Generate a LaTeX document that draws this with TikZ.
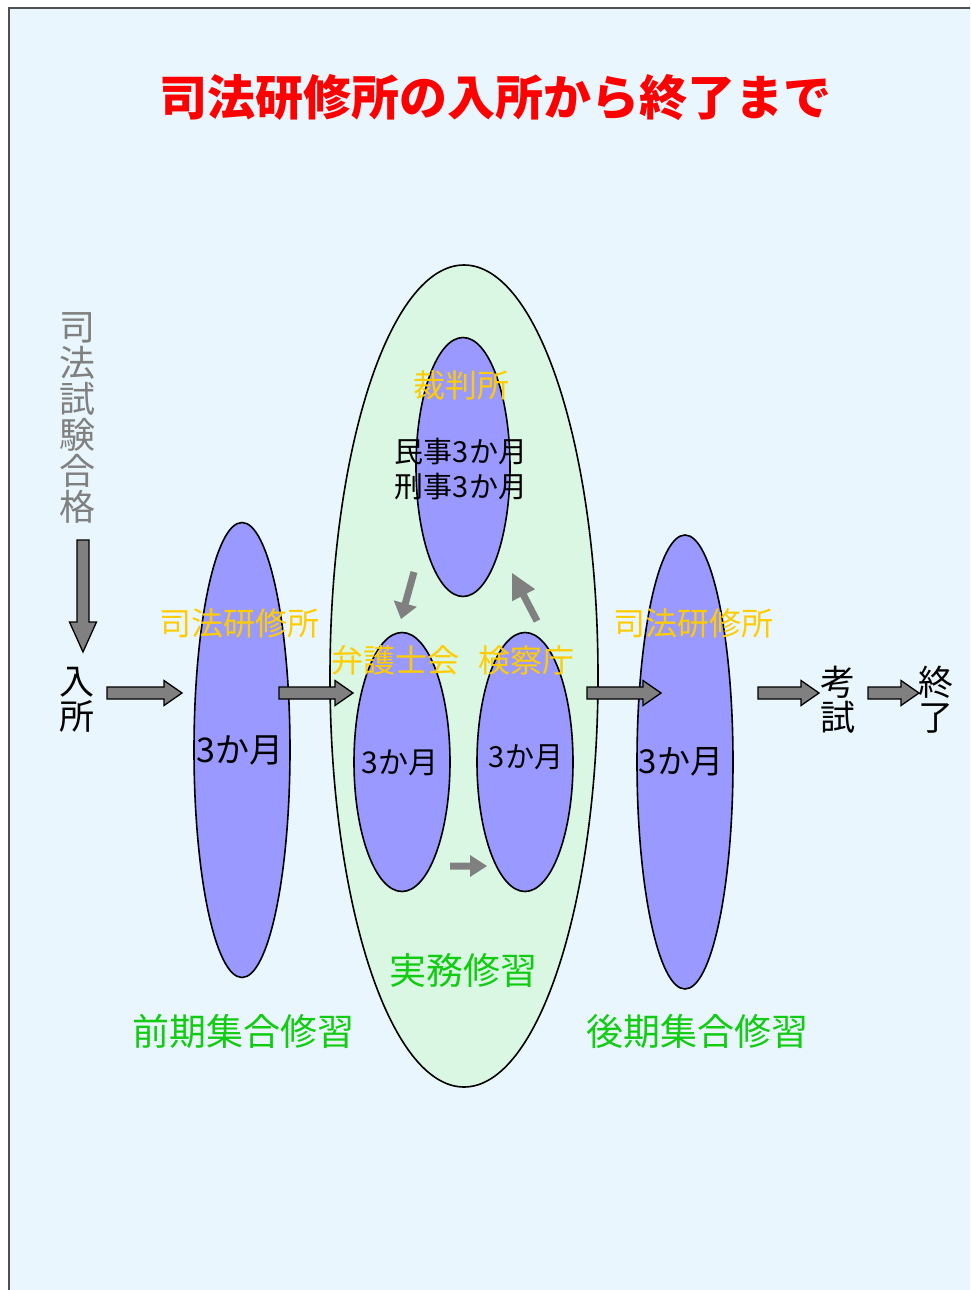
\documentclass[tikz,border=0pt]{standalone}
\usepackage{fontspec}
\newfontfamily\jp{Noto Sans CJK JP}
\usetikzlibrary{calc,shapes.geometric}
\definecolor{bgblue}{HTML}{EAF6FE}
\definecolor{ellblue}{HTML}{9999FF}
\definecolor{ellgreen}{HTML}{DAF7E4}
\definecolor{gold}{HTML}{FFCC00}
\definecolor{grn}{HTML}{11CC11}
\definecolor{agray}{HTML}{808080}
\definecolor{framegray}{HTML}{505050}
\newcommand\fs[1]{\fontsize{#1}{#1}\selectfont}
\newcommand\blkarrow[6]{%
  \path let \p1=($(#3)-(#2)$), \n1={atan2(\y1,\x1)}, \n2={veclen(\x1,\y1)} in
    \pgfextra{\xdef\blkang{\n1}\xdef\blklen{\n2}};
  \begin{scope}[shift={(#2)}, rotate=\blkang]
    \path[#1] (0,-#4) -- ({\blklen-#6},-#4) -- ({\blklen-#6},-#5) -- (\blklen,0)
      -- ({\blklen-#6},#5) -- ({\blklen-#6},#4) -- (0,#4) -- cycle;
  \end{scope}}
\tikzset{
  ell/.style={ellipse, draw=black, line width=1.6pt, fill=ellblue, inner sep=0pt},
  lbl/.style={font=\jp, inner sep=0pt},
  goldlbl/.style={lbl, text=gold},
  grnlbl/.style={lbl, text=grn},
  blk/.style={fill=agray, draw=black, line width=1.3pt, line join=miter},
  sblk/.style={fill=agray},
}
\begin{document}
\begin{tikzpicture}[x=1pt, y=-1pt]
\useasboundingbox (0,0) rectangle (970,1290);
\clip (0,0) rectangle (970,1290);
\fill[white] (0,0) rectangle (970,1290);
\draw[framegray, line width=2.5pt, fill=bgblue] (9,8) rectangle (1000,1310);

% title
\node[lbl, text=red, font=\jp\bfseries\fs{48}] (title) at (495,97) {司法研修所の入所から終了まで};

% ellipses
\node[ellipse, draw=black, line width=1.6pt, fill=ellgreen, inner sep=0pt,
      minimum width=268, minimum height=822] (jitsumu) at (464,676) {};
\node[ell, minimum width=94, minimum height=259] (saiban) at (463,467) {};
\node[ell, minimum width=96, minimum height=259] (bengo) at (402,762) {};
\node[ell, minimum width=96, minimum height=259] (kensatsu) at (525,762) {};
\node[ell, minimum width=96, minimum height=455] (zenki) at (242,750) {};
\node[ell, minimum width=96, minimum height=454] (kouki) at (685,762) {};

% arrow end points
\coordinate (d1) at (83,540);  \coordinate (d2) at (83,652);
\coordinate (h1a) at (107,693); \coordinate (h1b) at (182,693);
\coordinate (h2a) at (279,693); \coordinate (h2b) at (353,693);
\coordinate (h3a) at (587,693); \coordinate (h3b) at (661,693);
\coordinate (h4a) at (758,693); \coordinate (h4b) at (819,693);
\coordinate (h5a) at (868,693); \coordinate (h5b) at (919,693);
\coordinate (s1a) at (414,572); \coordinate (s1b) at (401,619);
\coordinate (s2a) at (537,621); \coordinate (s2b) at (512,573);
\coordinate (s3a) at (450,866); \coordinate (s3b) at (487,866);

\blkarrow{blk}{d1}{d2}{6}{13.5}{30}
\blkarrow{blk}{h1a}{h1b}{6}{12.5}{18}
\blkarrow{blk}{h2a}{h2b}{6}{12.5}{18}
\blkarrow{blk}{h3a}{h3b}{6}{12.5}{18}
\blkarrow{blk}{h4a}{h4b}{6}{12.5}{18}
\blkarrow{blk}{h5a}{h5b}{6}{12.5}{18}
\blkarrow{sblk}{s1a}{s1b}{3.5}{12}{16}
\blkarrow{sblk}{s2a}{s2b}{3.5}{13}{25}
\blkarrow{sblk}{s3a}{s3b}{3.5}{11}{17}

% side texts
\node[lbl, text=agray, align=center, font=\jp\fs{36}] (goukaku) at (77,418) {司\\法\\試\\験\\合\\格};
\node[lbl, align=center, font=\jp\fs{35}] (nyusho) at (77,700) {入\\所};
\node[lbl, align=center, font=\jp\fs{35}] (koshi) at (838,700) {考\\試};
\node[lbl, align=center, font=\jp\fs{35}] (shuryo) at (936,700) {終\\了};

% gold labels
\node[goldlbl, font=\jp\fs{32}] (kenshu1) at (239,623) {司法研修所};
\node[goldlbl, font=\jp\fs{32}] (kenshu2) at (693,623) {司法研修所};
\node[goldlbl, font=\jp\fs{32}] (saibanlbl) at (461,385) {裁判所};
\node[goldlbl, font=\jp\fs{32}] (bengolbl) at (395,660) {弁護士会};
\node[goldlbl, font=\jp\fs{32}] (kensatsulbl) at (526,660) {検察庁};

% inner texts
\node[lbl, font=\jp\fs{29}] (minji) at (461,452) {民事3か月};
\node[lbl, font=\jp\fs{29}] (keiji) at (461,487) {刑事3か月};
\node[lbl, font=\jp\fs{34}] (m1) at (240,750) {3か月};
\node[lbl, font=\jp\fs{30}] (m2) at (400,763) {3か月};
\node[lbl, font=\jp\fs{29}] (m3) at (526,757) {3か月};
\node[lbl, font=\jp\fs{33}] (m4) at (681,762) {3か月};

% green labels
\node[grnlbl, font=\jp\fs{37}] (jitsumulbl) at (463,970) {実務修習};
\node[grnlbl, font=\jp\fs{37}] (zenkilbl) at (243,1031) {前期集合修習};
\node[grnlbl, font=\jp\fs{37}] (koukilbl) at (697,1031) {後期集合修習};
\end{tikzpicture}
\end{document}
